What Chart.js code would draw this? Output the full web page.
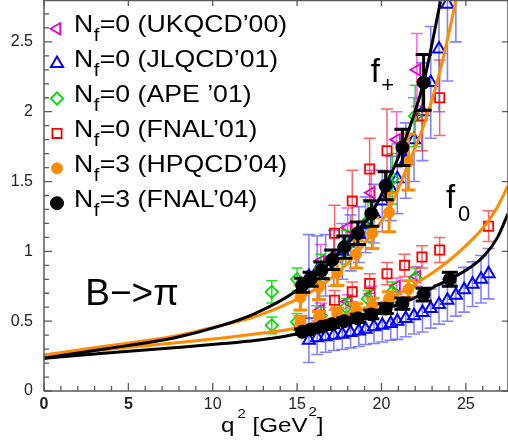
<!DOCTYPE html>
<html>
<head>
<meta charset="utf-8">
<script src="https://cdn.jsdelivr.net/npm/chart.js@4.4.0/dist/chart.umd.min.js"></script>
<style>
html,body{margin:0;padding:0;background:#fff;}
canvas{display:block;}
</style>
</head>
<body>
<canvas id="c" width="508" height="443"></canvas>
<script>
// ---------------- data ----------------
const xTickValues = [0, 5, 10, 15, 20, 25];
const yTickValues = [0, 0.5, 1, 1.5, 2, 2.5];

const legendNf   = ['0', '0', '0', '0', '3', '3'];
const legendTags = ['(UKQCD\u201900)', '(JLQCD\u201901)', '(APE \u201901)', '(FNAL\u201901)', '(HPQCD\u201904)', '(FNAL\u201904)'];

// UKQCD'00 (Nf=0)
const ukqcdQ2        = [16.4, 18.0, 19.4, 20.9, 22.1];
const ukqcdFplus     = [0.93, 1.17, 1.42, 1.80, 2.30];
const ukqcdFplusErr  = [0.12, 0.14, 0.16, 0.20, 0.26];
const ukqcdF0        = [0.58, 0.64, 0.69, 0.75, 0.82];
const ukqcdF0Err     = [0.05, 0.05, 0.06, 0.06, 0.07];

// JLQCD'01 (Nf=0)
const jlqcdQ2        = [15.7, 16.19, 16.69, 17.18, 17.68, 18.17, 18.66, 19.06, 19.56, 20.05, 20.55, 20.94, 21.44, 21.93, 22.43, 22.92, 23.41, 23.91, 24.41, 24.9, 25.4, 25.9, 26.35];
const jlqcdFplus     = [0.82, 0.86, 0.90, 0.95, 1.00, 1.06, 1.12, 1.19, 1.27, 1.36, 1.45, 1.52, 1.65, 1.80, 2.00, 2.21, 2.45, 2.77, 3.20, null, null, null, null];
const jlqcdFplusErr  = [0.30, 0.25, 0.22, 0.20, 0.20, 0.20, 0.20, 0.20, 0.21, 0.22, 0.23, 0.25, 0.27, 0.30, 0.35, 0.40, 0.45, 0.55, 0.70, null, null, null, null];
const jlqcdF0        = [0.364, 0.381, 0.388, 0.400, 0.407, 0.419, 0.429, 0.443, 0.460, 0.471, 0.483, 0.500, 0.519, 0.538, 0.562, 0.590, 0.619, 0.650, 0.686, 0.725, 0.765, 0.800, 0.840];
const jlqcdF0Err     = [0.16, 0.12, 0.11, 0.11, 0.11, 0.11, 0.11, 0.11, 0.12, 0.12, 0.12, 0.13, 0.13, 0.13, 0.14, 0.14, 0.14, 0.15, 0.15, 0.16, 0.16, 0.17, 0.18];

// APE'01 (Nf=0)
const apeQ2          = [13.5, 15.0, 16.4, 17.9, 19.2, 20.65, 22.0];
const apeFplus       = [0.71, 0.80, 0.88, 1.03, 1.22, 1.52, 1.97];
const apeFplusErr    = [0.08, 0.08, 0.10, 0.12, 0.15, 0.18, 0.22];
const apeF0          = [0.47, 0.495, 0.54, 0.60, 0.66, 0.71, 0.81];
const apeF0Err       = [0.06, 0.06, 0.06, 0.06, 0.06, 0.07, 0.07];

// FNAL'01 (Nf=0)
const fnal01Q2       = [17.22, 18.27, 19.3, 20.33, 21.37, 22.4, 23.45, 26.35];
const fnal01Fplus    = [1.13, 1.36, 1.59, 1.72, null, 1.97, 2.10, null];
const fnal01FplusErr = [0.20, 0.22, 0.22, 0.30, null, 0.25, 0.27, null];
const fnal01F0       = [0.65, 0.71, 0.77, 0.84, 0.90, 0.96, 1.01, 1.18];
const fnal01F0Err    = [0.07, 0.07, 0.07, 0.08, 0.08, 0.08, 0.09, 0.11];

// HPQCD'04 (Nf=3)
const hpqcdQ2        = [15.2, 16.3, 17.38, 18.5, 19.46, 20.45, 21.6];
const hpqcdFplus     = [0.67, 0.745, 0.845, 0.98, 1.13, 1.28, 1.64];
const hpqcdFplusErr  = [0.09, 0.09, 0.09, 0.10, 0.11, 0.14, 0.20];
const hpqcdF0        = [0.495, 0.53, 0.555, 0.58, 0.614, 0.66, 0.73];
const hpqcdF0Err     = [0.04, 0.04, 0.04, 0.045, 0.05, 0.05, 0.06];

// FNAL'04 (Nf=3)
const fnal04Q2       = [15.3, 15.8, 16.45, 17.08, 17.8, 18.6, 19.4, 20.25, 21.24, 22.5, 24.05];
const fnal04Fplus    = [0.757, 0.80, 0.864, 0.94, 1.03, 1.13, 1.27, 1.47, 1.745, 2.21, null];
const fnal04FplusErr = [0.05, 0.05, 0.06, 0.07, 0.08, 0.08, 0.09, 0.10, 0.13, 0.20, null];
const fnal04F0       = [0.424, 0.44, 0.46, 0.478, 0.50, 0.52, 0.548, 0.59, 0.626, 0.69, 0.80];
const fnal04F0Err    = [0.02, 0.02, 0.02, 0.025, 0.025, 0.03, 0.03, 0.035, 0.04, 0.045, 0.05];

// fitted curves
const fitFnal04FplusQ2 = [0, 3.7, 7.7, 10.45, 12.6, 14.8, 15.3, 16.45, 17.8, 19.4, 20.25, 21.24, 22.5, 23.5];
const fitFnal04Fplus   = [0.235, 0.303, 0.38, 0.466, 0.56, 0.705, 0.757, 0.864, 1.03, 1.27, 1.47, 1.745, 2.21, 2.79];
const fitFnal04F0Q2    = [0, 3.7, 7.7, 10.45, 12.6, 14.8, 15.3, 16.45, 17.8, 19.4, 20.25, 21.24, 22.5, 23.1, 24.05, 25.3, 26.1, 26.88, 27.5];
const fitFnal04F0      = [0.235, 0.272, 0.31, 0.338, 0.364, 0.405, 0.424, 0.46, 0.50, 0.548, 0.59, 0.63, 0.70, 0.745, 0.80, 0.888, 0.97, 1.10, 1.27];
const fitHpqcdFplusQ2  = [0, 3.7, 7.7, 10.45, 12.6, 14.8, 16.3, 17.38, 18.5, 19.46, 20.45, 21.64, 22.5, 23.2, 23.8, 24.4];
const fitHpqcdFplus    = [0.257, 0.322, 0.392, 0.468, 0.536, 0.645, 0.745, 0.845, 0.98, 1.13, 1.30, 1.64, 1.90, 2.17, 2.46, 2.79];
const fitHpqcdF0Q2     = [0, 3.7, 7.7, 10.45, 12.6, 14.8, 17.0, 19.0, 20.5, 21.54, 22.33, 23.1, 23.9, 24.7, 25.5, 26.29, 26.88, 27.5];
const fitHpqcdF0       = [0.257, 0.298, 0.343, 0.378, 0.41, 0.448, 0.52, 0.59, 0.66, 0.733, 0.793, 0.852, 0.924, 1.007, 1.10, 1.21, 1.32, 1.47];

// text annotations placed in data coordinates
const annotations = [
  {text: 'f',      q2: 19.36, f: 2.213, size: 33},
  {text: '+',      q2: 19.99, f: 2.143, size: 22},
  {text: 'f',      q2: 23.82, f: 1.31,  size: 33},
  {text: '0',      q2: 24.53, f: 1.217, size: 22},
  {text: 'B\u2212>\u03c0', q2: 2.45, f: 0.616, size: 37}
];

// ---------------- helpers ----------------
const FONT = '"Liberation Sans", Arial, Helvetica, sans-serif';

function pts(q, v, e) {
  const out = [];
  q.forEach((x, i) => { if (v[i] != null) out.push({x: x, y: v[i], e: e ? e[i] : null}); });
  return out;
}

const styles = {
  ukqcd:  {pointStyle: 'triangle', rotation: -90, radius: 6.5, borderWidth: 1.8, color: '#ea00c8', fill: 'rgba(0,0,0,0)', err: {color: 'rgba(235,0,200,0.6)', width: 1.5, cap: 12}},
  jlqcd:  {pointStyle: 'triangle', rotation: 0,   radius: 7,   borderWidth: 2,   color: '#0000ff', fill: 'rgba(0,0,0,0)', err: {color: 'rgba(30,30,255,0.55)', width: 1.6, cap: 12}},
  ape:    {pointStyle: 'rectRot',  rotation: 0,   radius: 6.2, borderWidth: 1.8, color: '#00dd00', fill: 'rgba(0,0,0,0)', err: {color: 'rgba(0,220,0,0.85)', width: 1.5, cap: 11}},
  fnal01: {pointStyle: 'rect',     rotation: 0,   radius: 6.5, borderWidth: 1.8, color: '#ff0000', fill: 'rgba(0,0,0,0)', err: {color: 'rgba(255,20,20,0.65)', width: 1.5, cap: 12}},
  hpqcd:  {pointStyle: 'circle',   rotation: 0,   radius: 5.5, borderWidth: 1,   color: '#ff8c00', fill: '#ff8c00', err: {color: '#ff8c00', width: 3, cap: 14}},
  fnal04: {pointStyle: 'circle',   rotation: 0,   radius: 6.5, borderWidth: 1,   color: '#000000', fill: '#000000', err: {color: '#000000', width: 3, cap: 16}}
};

function pointSet(key, data, order) {
  const s = styles[key];
  return {
    data: data, order: order, showLine: false,
    pointStyle: s.pointStyle, rotation: s.rotation, pointRadius: s.radius, pointHoverRadius: s.radius,
    pointBorderWidth: s.borderWidth, pointBorderColor: s.color, pointBackgroundColor: s.fill,
    borderColor: s.color, backgroundColor: s.fill,
    errBar: s.err
  };
}
function curveSet(q, v, color, order) {
  return {
    data: pts(q, v), order: order, showLine: true, pointRadius: 0, pointHoverRadius: 0,
    borderColor: color, borderWidth: 3, fill: false, cubicInterpolationMode: 'monotone'
  };
}

const datasets = [
  pointSet('jlqcd',  pts(jlqcdQ2, jlqcdF0, jlqcdF0Err), 20),
  pointSet('jlqcd',  pts(jlqcdQ2, jlqcdFplus, jlqcdFplusErr), 19),
  pointSet('ukqcd',  pts(ukqcdQ2, ukqcdF0, ukqcdF0Err), 18),
  pointSet('ukqcd',  pts(ukqcdQ2, ukqcdFplus, ukqcdFplusErr), 17),
  pointSet('ape',    pts(apeQ2, apeF0, apeF0Err), 16),
  pointSet('ape',    pts(apeQ2, apeFplus, apeFplusErr), 15),
  pointSet('fnal01', pts(fnal01Q2, fnal01F0, fnal01F0Err), 14),
  pointSet('fnal01', pts(fnal01Q2, fnal01Fplus, fnal01FplusErr), 13),
  curveSet(fitHpqcdF0Q2, fitHpqcdF0, '#ff8c00', 12),
  curveSet(fitHpqcdFplusQ2, fitHpqcdFplus, '#ff8c00', 11),
  pointSet('hpqcd',  pts(hpqcdQ2, hpqcdF0, hpqcdF0Err), 10),
  pointSet('hpqcd',  pts(hpqcdQ2, hpqcdFplus, hpqcdFplusErr), 9),
  curveSet(fitFnal04F0Q2, fitFnal04F0, '#000000', 8),
  curveSet(fitFnal04FplusQ2, fitFnal04Fplus, '#000000', 7),
  pointSet('fnal04', pts(fnal04Q2, fnal04F0, fnal04F0Err), 6),
  pointSet('fnal04', pts(fnal04Q2, fnal04Fplus, fnal04FplusErr), 5)
];

function drawMarker(ctx, s, x, y) {
  ctx.save();
  ctx.lineWidth = s.borderWidth;
  ctx.strokeStyle = s.color;
  ctx.fillStyle = s.fill;
  if (Chart.helpers && Chart.helpers.drawPoint) {
    Chart.helpers.drawPoint(ctx, {pointStyle: s.pointStyle, rotation: s.rotation, radius: s.radius, borderWidth: s.borderWidth}, x, y);
  } else {
    ctx.beginPath(); ctx.arc(x, y, s.radius, 0, Math.PI * 2); ctx.fill(); ctx.stroke();
  }
  ctx.restore();
}

function stretchText(ctx, text, x, y, size, sx) {
  ctx.save();
  ctx.font = size + 'px ' + FONT;
  ctx.translate(x, y);
  ctx.scale(sx, 1);
  ctx.fillText(text, 0, 0);
  const w = ctx.measureText(text).width * sx;
  ctx.restore();
  return w;
}

function noPad(s) { s.paddingTop = 0; s.paddingBottom = 0; s.paddingLeft = 0; s.paddingRight = 0; }

// ---------------- plugins ----------------
const errorBarPlugin = {
  id: 'errorBars',
  beforeDatasetDraw(chart, args) {
    const ds = chart.data.datasets[args.index];
    if (!ds.errBar) return;
    const {ctx, chartArea: a, scales: {x, y}} = chart;
    ctx.save();
    ctx.beginPath(); ctx.rect(a.left, a.top, a.right - a.left, a.bottom - a.top); ctx.clip();
    ctx.strokeStyle = ds.errBar.color;
    ctx.lineWidth = ds.errBar.width;
    const c = ds.errBar.cap / 2;
    ds.data.forEach(d => {
      if (d.e == null) return;
      const px = x.getPixelForValue(d.x);
      const p1 = y.getPixelForValue(d.y + d.e);
      const p2 = y.getPixelForValue(d.y - d.e);
      ctx.beginPath();
      ctx.moveTo(px, p1); ctx.lineTo(px, p2);
      ctx.moveTo(px - c, p1); ctx.lineTo(px + c, p1);
      ctx.moveTo(px - c, p2); ctx.lineTo(px + c, p2);
      ctx.stroke();
    });
    ctx.restore();
  }
};

const framePlugin = {
  id: 'frame',
  afterDraw(chart) {
    const {ctx, chartArea: a, scales: {x, y}} = chart;
    ctx.save();
    ctx.strokeStyle = '#5a5a5a';
    ctx.lineWidth = 1.5;
    ctx.beginPath();
    ctx.moveTo(a.left, a.top + 0.5); ctx.lineTo(a.right, a.top + 0.5);
    ctx.moveTo(a.right, a.top); ctx.lineTo(a.right, a.bottom);
    ctx.moveTo(a.left, a.top); ctx.lineTo(a.left, a.bottom);
    ctx.moveTo(a.left, a.bottom); ctx.lineTo(a.right, a.bottom);
    ctx.stroke();
    ctx.lineWidth = 1.3;
    ctx.beginPath();
    for (let v = x.min; v <= x.max; v += 1) {
      const px = x.getPixelForValue(v);
      const major = v % 5 === 0;
      ctx.moveTo(px, a.bottom); ctx.lineTo(px, a.bottom - (major ? 8 : 5));
      if (major) { ctx.moveTo(px, a.top); ctx.lineTo(px, a.top + 6); }
    }
    for (let k = 0; k <= Math.round(y.max * 10); k++) {
      const py = y.getPixelForValue(k / 10);
      const major = k % 5 === 0;
      ctx.moveTo(a.left, py); ctx.lineTo(a.left + (major ? 8 : 5), py);
      if (major) { ctx.moveTo(a.right, py); ctx.lineTo(a.right - 6, py); }
    }
    ctx.stroke();
    ctx.restore();
  }
};

const textPlugin = {
  id: 'texts',
  afterDraw(chart) {
    const {ctx, scales: {x, y}} = chart;
    ctx.save();
    ctx.fillStyle = '#000';
    ctx.textBaseline = 'alphabetic';
    ctx.textAlign = 'left';
    // legend
    legendTags.forEach((tag, i) => {
      const key = ['ukqcd', 'jlqcd', 'ape', 'fnal01', 'hpqcd', 'fnal04'][i];
      const cy = 28.7 + 34.9 * i;
      const base = 32.3 + 34.9 * i;
      drawMarker(ctx, styles[key], 57, cy);
      let px = 74;
      px += stretchText(ctx, 'N', px, base, 24, 1.11);
      px += stretchText(ctx, 'f', px + 0.5, base + 9, 18, 1.11);
      stretchText(ctx, '=' + legendNf[i] + ' ' + tag, px + 1, base, 24, 1.11);
    });
    // annotations
    annotations.forEach(t => {
      ctx.font = t.size + 'px ' + FONT;
      ctx.fillText(t.text, x.getPixelForValue(t.q2), y.getPixelForValue(t.f));
    });
    // x-axis title q^2 [GeV^2]
    const tb = 431.5;
    let tx = 221;
    tx += stretchText(ctx, 'q', tx, tb, 21, 1.15);
    tx += 3;
    tx += stretchText(ctx, '2', tx, tb - 14, 13, 1.15);
    tx += stretchText(ctx, ' [GeV', tx, tb, 21, 1.15);
    tx += 1;
    tx += stretchText(ctx, '2', tx, tb - 16, 13, 1.15);
    stretchText(ctx, ']', tx, tb, 21, 1.15);
    ctx.restore();
  }
};

// ---------------- chart ----------------
new Chart(document.getElementById('c'), {
  type: 'scatter',
  data: {datasets: datasets},
  options: {
    responsive: false,
    animation: false,
    devicePixelRatio: 1,
    layout: {autoPadding: false, padding: {top: 0, right: 0, left: 0, bottom: 0}},
    plugins: {legend: {display: false}, tooltip: {enabled: false}},
    scales: {
      x: {
        type: 'linear', min: 0, max: 27.5,
        grid: {display: false, drawTicks: false},
        border: {display: false},
        afterBuildTicks: (s) => { s.ticks = xTickValues.map(v => ({value: v})); },
        afterFit: (s) => { s.height = 52; noPad(s); },
        ticks: {
          padding: 4, color: '#222', maxRotation: 0,
          callback: (v) => String(v),
          font: (c) => ({family: FONT, size: 16, weight: (c.tick && (c.tick.value === 0 || c.tick.value === 5)) ? 'bold' : 'normal'})
        }
      },
      y: {
        type: 'linear', min: 0, max: 2.8,
        grid: {display: false, drawTicks: false},
        border: {display: false},
        afterBuildTicks: (s) => { s.ticks = yTickValues.map(v => ({value: v})); },
        afterFit: (s) => { s.width = 44; noPad(s); },
        ticks: {padding: 11, color: '#222', callback: (v) => String(v), font: {family: FONT, size: 16}}
      }
    }
  },
  plugins: [errorBarPlugin, framePlugin, textPlugin]
});
</script>
</body>
</html>
